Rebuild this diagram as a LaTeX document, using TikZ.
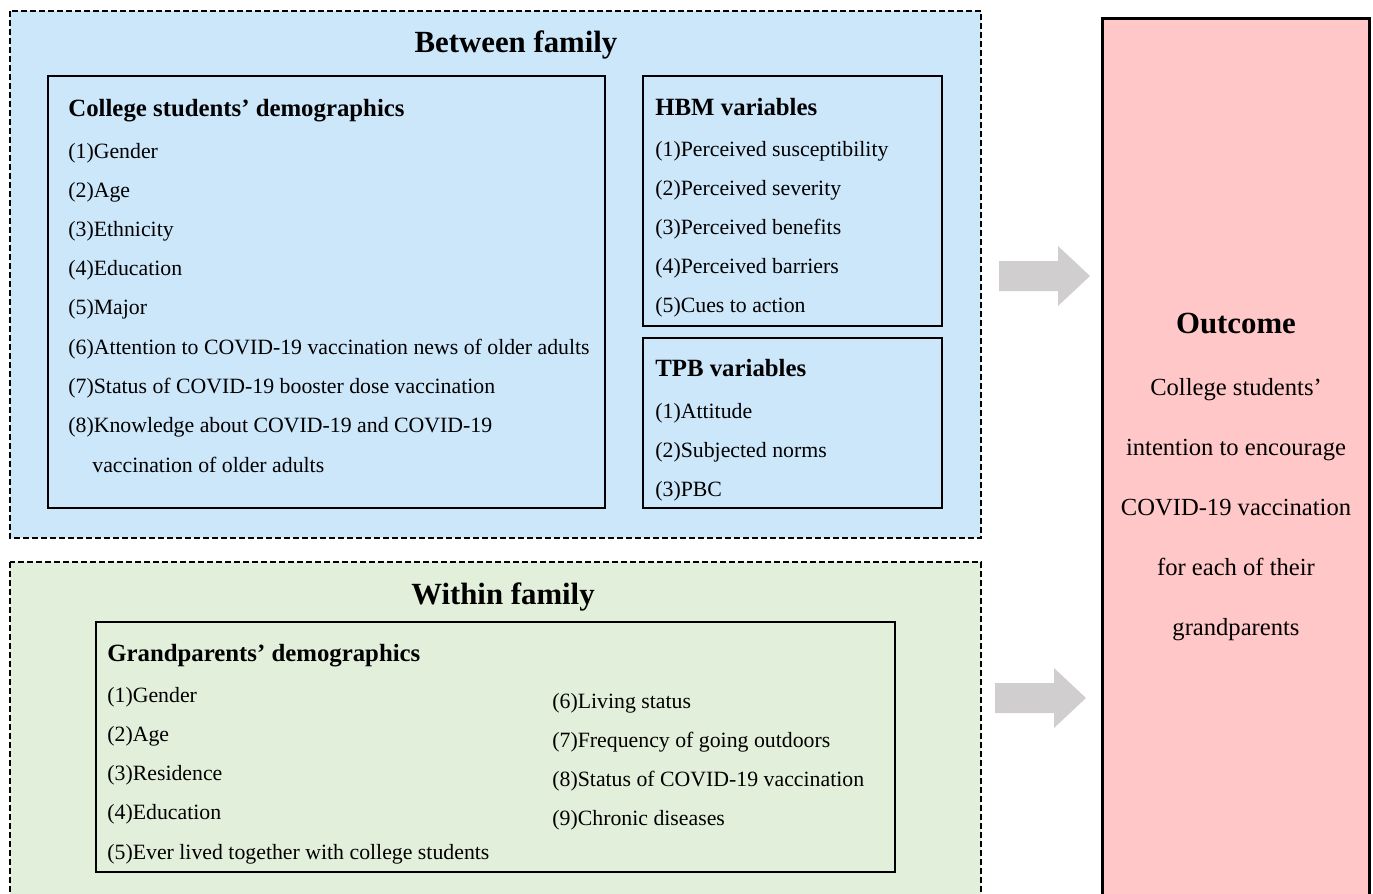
\documentclass[tikz,border=0pt]{standalone}
\usepackage{fontspec}
\setmainfont{Liberation Serif}
\usetikzlibrary{positioning}

\definecolor{betweenblue}{HTML}{CCE6FA}
\definecolor{withingreen}{HTML}{E2EFDA}
\definecolor{outcomepink}{HTML}{FFC7C7}
\definecolor{arrowgray}{HTML}{D0CECE}

\tikzset{
  group/.style={draw,line width=1pt,dash pattern=on 3pt off 1.5pt},
  panel/.style={draw,line width=0.75pt},
  grouptitle/.style={inner sep=0pt,font=\fontsize{15.4}{18}\selectfont\bfseries},
  paneltitle/.style={anchor=west,inner sep=0pt,text height=0.7em,text depth=0.2em,
    font=\fontsize{12.4}{15}\selectfont\bfseries},
  item/.style={anchor=west,inner sep=0pt,text height=0.7em,text depth=0.2em,
    font=\fontsize{10.9}{13}\selectfont},
  outline/.style={inner sep=0pt,text height=0.7em,text depth=0.2em,
    font=\fontsize{12.3}{15}\selectfont},
}

\begin{document}
\begin{tikzpicture}[x=0.5pt,y=-0.5pt]
  \useasboundingbox (0,0) rectangle (1373,894);
  \clip (0,0) rectangle (1373,894);

  % between family
  \filldraw[group,fill=betweenblue] (10,11) rectangle (981,538);
  \node[grouptitle] (between) at (516,45) {Between family};

  \draw[panel] (48,76) rectangle (605,508);
  \node[paneltitle] (cs) at (68,111) {College students’ demographics};
  \foreach \t [count=\i] in {(1)Gender,(2)Age,(3)Ethnicity,(4)Education,(5)Major,
      (6)Attention to COVID-19 vaccination news of older adults,
      (7)Status of COVID-19 booster dose vaccination,
      (8)Knowledge about COVID-19 and COVID-19}
    \node[item] (cs\i) at (68,{153+39.2*(\i-1)}) {\t};
  \node[item] (cs8b) at (92,467) {vaccination of older adults};

  \draw[panel] (643,76) rectangle (942,326);
  \node[paneltitle] (hbm) at (655,110) {HBM variables};
  \foreach \t [count=\i] in {(1)Perceived susceptibility,(2)Perceived severity,
      (3)Perceived benefits,(4)Perceived barriers,(5)Cues to action}
    \node[item] (hbm\i) at (655,{151+39.2*(\i-1)}) {\t};

  \draw[panel] (643,338) rectangle (942,508);
  \node[paneltitle] (tpb) at (655,371) {TPB variables};
  \foreach \t [count=\i] in {(1)Attitude,(2)Subjected norms,(3)PBC}
    \node[item] (tpb\i) at (655,{413+39.2*(\i-1)}) {\t};

  % within family
  \filldraw[group,fill=withingreen] (10,562) rectangle (981,930);
  \node[grouptitle] (within) at (503,597) {Within family};

  \draw[panel] (96,622) rectangle (895,872);
  \node[paneltitle] (gp) at (107,656) {Grandparents’ demographics};
  \foreach \t [count=\i] in {(1)Gender,(2)Age,(3)Residence,(4)Education,
      (5)Ever lived together with college students}
    \node[item] (gpl\i) at (107,{697+39.25*(\i-1)}) {\t};
  \foreach \t [count=\i from 6] in {(6)Living status,(7)Frequency of going outdoors,
      (8)Status of COVID-19 vaccination,(9)Chronic diseases}
    \node[item] (gpr\i) at (552,{703+39.2*(\i-6)}) {\t};

  % outcome
  \filldraw[fill=outcomepink,line width=1.5pt] (1102,18) rectangle (1369,930);
  \node[grouptitle] (outcome) at (1236,323) {Outcome};
  \foreach \t [count=\i] in {College students’,intention to encourage,
      COVID-19 vaccination,for each of their,grandparents}
    \node[outline] (out\i) at (1236,{390+60*(\i-1)}) {\t};

  % arrows
  \coordinate (arrA) at (999,276);
  \coordinate (arrB) at (995,698);
  \foreach \a in {arrA,arrB}
    \fill[arrowgray] (\a) ++(0,-15) -- ++(59,0) -- ++(0,-15) -- ++(32,30)
      -- ++(-32,30) -- ++(0,-15) -- ++(-59,0) -- cycle;
\end{tikzpicture}
\end{document}
